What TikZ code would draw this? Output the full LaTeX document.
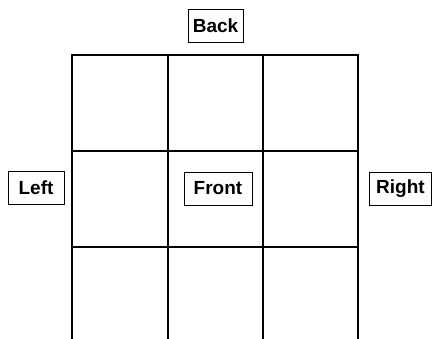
\documentclass[tikz,border=0pt]{standalone}
\usepackage{fontspec}
\setmainfont{Liberation Sans}
\usetikzlibrary{positioning}

\begin{document}
\begin{tikzpicture}[
    x=1pt, y=-1pt,
    font=\fontsize{19}{22}\selectfont\bfseries,
    side/.style={draw=black, line width=0.9pt, minimum height=33pt,
                 inner xsep=4pt, inner ysep=0pt},
    grid/.style={draw=black, line width=2pt},
]
\useasboundingbox (0,0) rectangle (432,339);

% grid (open at the bottom)
\foreach \y in {55,151,247} \draw[grid] (71,\y) -- (359,\y);
\foreach \x in {72,167.5,263,358} \draw[grid] (\x,54) -- (\x,339);

% side labels
\node[side, minimum width=55pt] (back)  at (215.5,26)  {Back};
\node[side, minimum width=56pt] (left)  at (36,188)    {Left};
\node[side, minimum width=68pt] (front) at (218,188.5) {Front};
\node[side, minimum width=62pt] (right) at (400.5,188.5) {Right};
\end{tikzpicture}
\end{document}
